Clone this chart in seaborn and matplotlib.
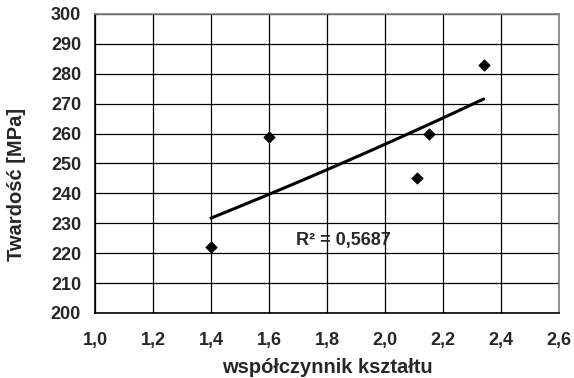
import numpy as np
import pandas as pd
import matplotlib
matplotlib.use("Agg")
import matplotlib.pyplot as plt
import seaborn as sns

# data
shape_factor = [1.40, 1.60, 2.11, 2.15, 2.34]
hardness = [222, 259, 245, 260, 283]
x_ticks = [1.0, 1.2, 1.4, 1.6, 1.8, 2.0, 2.2, 2.4, 2.6]
y_ticks = [200, 210, 220, 230, 240, 250, 260, 270, 280, 290, 300]
r2_label = "R² = 0,5687"

sns.set_theme(style="white")
plt.rcParams['font.family'] = ['Liberation Sans', 'DejaVu Sans']

df = pd.DataFrame({"x": shape_factor, "y": hardness})

# exponential trendline (Excel-style)
b, a = np.polyfit(df["x"], np.log(df["y"]), 1)
xt = np.linspace(min(shape_factor), max(shape_factor), 100)
trend = pd.DataFrame({"x": xt, "y": np.exp(a + b * xt)})

fig = plt.figure(figsize=(5.74, 3.78), dpi=100)
ax = fig.add_axes([0.1655, 0.172, 0.8084, 0.791])

sns.lineplot(data=trend, x="x", y="y", ax=ax, color="black", linewidth=2.2, zorder=3)
sns.scatterplot(data=df, x="x", y="y", ax=ax, marker="D", s=34, color="black",
                edgecolor="black", linewidth=0.5, zorder=4)

ax.set_xlim(1.0, 2.6)
ax.set_ylim(200, 300)
ax.set_xticks(x_ticks)
ax.set_yticks(y_ticks)
fs = 13
lfs = 14.5
ax.set_xticklabels([f"{v:.1f}".replace(".", ",") for v in x_ticks], fontweight="bold", fontsize=fs)
ax.set_yticklabels([str(v) for v in y_ticks], fontweight="bold", fontsize=fs)
ax.tick_params(axis="x", pad=14, length=0)
ax.tick_params(axis="y", pad=10, length=0)

ax.grid(True, color="black", linewidth=0.9)
ax.set_axisbelow(True)
for side in ["top", "right"]:
    ax.spines[side].set_color("#808080")
    ax.spines[side].set_linewidth(1.2)
for side in ["left", "bottom"]:
    ax.spines[side].set_color("black")
    ax.spines[side].set_linewidth(1.2)

ax.set_xlabel("współczynnik kształtu", fontweight="bold", fontsize=lfs, labelpad=6)
ax.set_ylabel("Twardość [MPa]", fontweight="bold", fontsize=lfs)
ax.yaxis.set_label_coords(-0.149, 0.431)

ax.text(1.693, 224.4, r2_label, fontweight="bold", fontsize=13, va="center", ha="left")

fig.savefig("out.png", dpi=100)
